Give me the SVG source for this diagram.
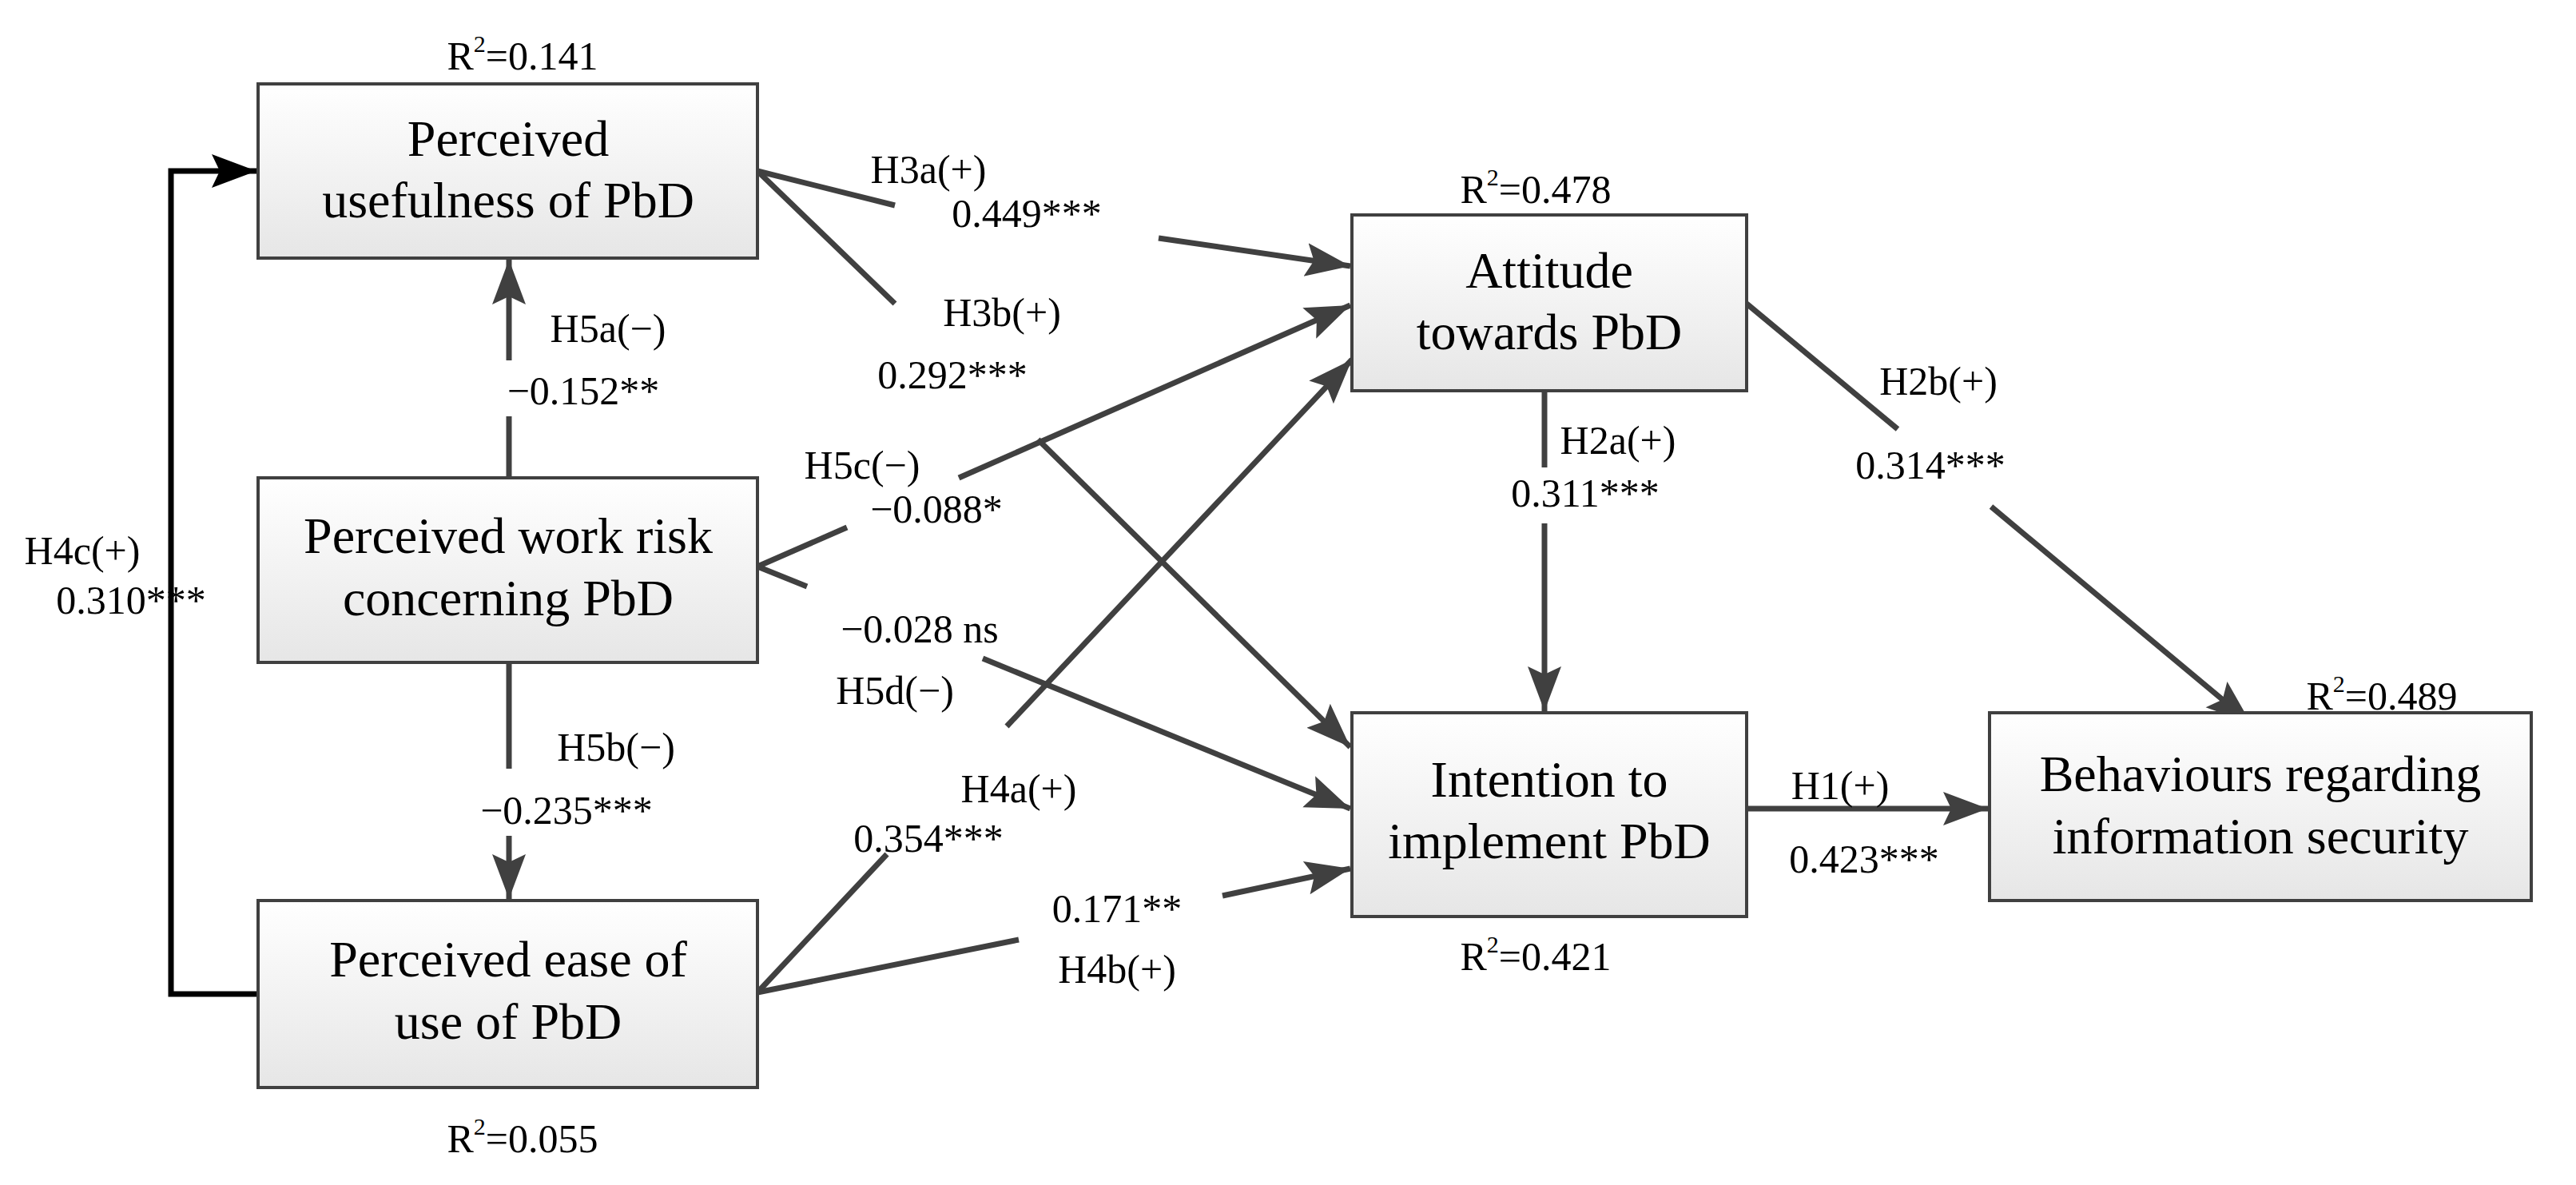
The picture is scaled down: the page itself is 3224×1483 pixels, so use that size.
<svg xmlns="http://www.w3.org/2000/svg" width="3224" height="1483" viewBox="0 0 3224 1483">
<defs>
<linearGradient id="g" x1="0" y1="0" x2="0" y2="1"><stop offset="0" stop-color="#ffffff"/><stop offset="1" stop-color="#e6e6e6"/></linearGradient>
<marker id="a" markerUnits="userSpaceOnUse" markerWidth="60" markerHeight="50" refX="56" refY="25" orient="auto"><path d="M0,4 L56,25 L0,46 L10,25 Z" fill="#404040"/></marker>
<marker id="b" markerUnits="userSpaceOnUse" markerWidth="60" markerHeight="50" refX="56" refY="25" orient="auto"><path d="M0,4 L56,25 L0,46 L10,25 Z" fill="#000"/></marker>
</defs>
<style>
.box{fill:url(#g);stroke:#404040;stroke-width:4}
.t{font-family:"Liberation Serif",serif;font-size:64px;fill:#000;text-anchor:middle}
.l{font-family:"Liberation Serif",serif;font-size:50px;fill:#000;text-anchor:middle}
.c{stroke:#404040;stroke-width:7;fill:none}
</style>
<rect width="3224" height="1483" fill="#fff"/>
<g id="connectors">
<polyline points="323,1244 214,1244 214,214 321,214" fill="none" stroke="#000" stroke-width="7" marker-end="url(#b)"/>
<line class="c" x1="637" y1="598" x2="637" y2="521"/>
<line class="c" x1="637" y1="451" x2="637" y2="325" marker-end="url(#a)"/>
<line class="c" x1="637" y1="829" x2="637" y2="962"/>
<line class="c" x1="637" y1="1046" x2="637" y2="1125" marker-end="url(#a)"/>
<line class="c" x1="948" y1="214" x2="1120" y2="257"/>
<line class="c" x1="1450" y1="298" x2="1690" y2="333" marker-end="url(#a)"/>
<line class="c" x1="948" y1="214" x2="1120" y2="380"/>
<line class="c" x1="1299" y1="550" x2="1690" y2="935" marker-end="url(#a)"/>
<line class="c" x1="948" y1="709" x2="1060" y2="660"/>
<line class="c" x1="1200" y1="598" x2="1690" y2="382" marker-end="url(#a)"/>
<line class="c" x1="948" y1="709" x2="1010" y2="734"/>
<line class="c" x1="1230" y1="824" x2="1690" y2="1012" marker-end="url(#a)"/>
<line class="c" x1="948" y1="1242" x2="1110" y2="1069"/>
<line class="c" x1="1260" y1="909" x2="1692" y2="450" marker-end="url(#a)"/>
<line class="c" x1="948" y1="1242" x2="1275" y2="1176"/>
<line class="c" x1="1530" y1="1121" x2="1690" y2="1087" marker-end="url(#a)"/>
<line class="c" x1="1933" y1="489" x2="1933" y2="585"/>
<line class="c" x1="1933" y1="655" x2="1933" y2="890" marker-end="url(#a)"/>
<line class="c" x1="2186" y1="380" x2="2375" y2="537"/>
<line class="c" x1="2492" y1="634" x2="2817" y2="905" marker-end="url(#a)"/>
<line class="c" x1="2186" y1="1012" x2="2488" y2="1012" marker-end="url(#a)"/>
</g>
<g id="labels" class="l">
<text class="l" x="103" y="706">H4c(+)</text>
<text class="l" x="164" y="768">0.310***</text>
<text class="l" x="761" y="428">H5a(−)</text>
<text class="l" x="730" y="506">−0.152**</text>
<text class="l" x="771" y="952">H5b(−)</text>
<text class="l" x="709" y="1031">−0.235***</text>
<text class="l" x="1162" y="229">H3a(+)</text>
<text class="l" x="1285" y="284">0.449***</text>
<text class="l" x="1254" y="408">H3b(+)</text>
<text class="l" x="1192" y="486">0.292***</text>
<text class="l" x="1079" y="599">H5c(−)</text>
<text class="l" x="1172" y="654">−0.088*</text>
<text class="l" x="1151" y="804">−0.028 ns</text>
<text class="l" x="1120" y="881">H5d(−)</text>
<text class="l" x="1275" y="1004">H4a(+)</text>
<text class="l" x="1162" y="1066">0.354***</text>
<text class="l" x="1398" y="1154">0.171**</text>
<text class="l" x="1398" y="1230">H4b(+)</text>
<text class="l" x="2025" y="568">H2a(+)</text>
<text class="l" x="1984" y="634">0.311***</text>
<text class="l" x="2426" y="494">H2b(+)</text>
<text class="l" x="2416" y="599">0.314***</text>
<text class="l" x="2303" y="1000">H1(+)</text>
<text class="l" x="2333" y="1092">0.423***</text>
<text class="l" x="654" y="87">R<tspan font-size="30" dy="-22">2</tspan><tspan dy="22">=0.141</tspan></text>
<text class="l" x="654" y="1442">R<tspan font-size="30" dy="-22">2</tspan><tspan dy="22">=0.055</tspan></text>
<text class="l" x="1922" y="254">R<tspan font-size="30" dy="-22">2</tspan><tspan dy="22">=0.478</tspan></text>
<text class="l" x="1922" y="1214">R<tspan font-size="30" dy="-22">2</tspan><tspan dy="22">=0.421</tspan></text>
<text class="l" x="2981" y="888">R<tspan font-size="30" dy="-22">2</tspan><tspan dy="22">=0.489</tspan></text>
</g>
<g id="pu"><rect class="box" x="323" y="105" width="625" height="218"/><text class="t" x="636" y="195">Perceived</text><text class="t" x="636" y="272">usefulness of PbD</text></g>
<g id="wr"><rect class="box" x="323" y="598" width="625" height="231"/><text class="t" x="636" y="692">Perceived work risk</text><text class="t" x="636" y="770">concerning PbD</text></g>
<g id="pe"><rect class="box" x="323" y="1127" width="625" height="234"/><text class="t" x="636" y="1222">Perceived ease of</text><text class="t" x="636" y="1300">use of PbD</text></g>
<g id="att"><rect class="box" x="1692" y="269" width="494" height="220"/><text class="t" x="1939" y="360">Attitude</text><text class="t" x="1939" y="437">towards PbD</text></g>
<g id="int"><rect class="box" x="1692" y="892" width="494" height="255"/><text class="t" x="1939" y="997">Intention to</text><text class="t" x="1939" y="1074">implement PbD</text></g>
<g id="beh"><rect class="box" x="2490" y="892" width="678" height="235"/><text class="t" x="2829" y="990">Behaviours regarding</text><text class="t" x="2829" y="1068">information security</text></g>
</svg>
